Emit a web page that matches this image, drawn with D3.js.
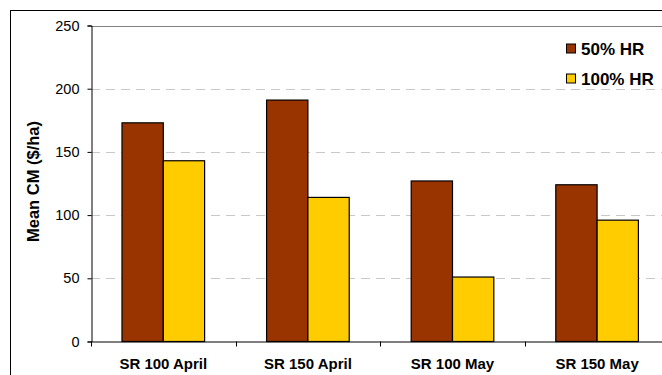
<!DOCTYPE html>
<html>
<head>
<meta charset="utf-8">
<script src="https://cdn.jsdelivr.net/npm/d3@7"></script>
<style>
  html, body { margin: 0; padding: 0; background: #fff; }
  svg { display: block; font-family: Arial, "Liberation Sans", sans-serif; }
</style>
</head>
<body>
<svg id="chart" width="662" height="375"></svg>
<script>
// Mean CM by sowing rate / month, two harvest-rate series
const categories = ["SR 100 April", "SR 150 April", "SR 100 May", "SR 150 May"];
const seriesNames = ["50% HR", "100% HR"];
const hr50 = [173, 191, 127, 124];
const hr100 = [143, 114, 51, 96];
const yTicks = [0, 50, 100, 150, 200, 250];
const seriesColors = ["#993300", "#ffcc00"];

const svg = d3.select("#chart");
const W = 662, H = 375;

// Outer chart frame (continues past the visible edge)
svg.append("rect")
  .attr("x", 10.5).attr("y", 10.5)
  .attr("width", W + 20).attr("height", H + 20)
  .attr("fill", "#fff").attr("stroke", "#000").attr("stroke-width", 1);

const plot = { left: 91, right: 91 + 4 * 144.6, top: 25.5, bottom: 341.5 };

const y = d3.scaleLinear().domain([0, 250]).range([plot.bottom, plot.top]);
const x0 = d3.scaleBand().domain(categories).range([plot.left, plot.right]).padding(0);
const x1 = d3.scaleBand().domain(seriesNames).range([0, x0.bandwidth()])
  .paddingInner(0).paddingOuter(0.75);

// Gridlines
svg.append("g")
  .selectAll("line")
  .data(yTicks.filter(t => t > 0 && t < 250))
  .join("line")
  .attr("x1", plot.left).attr("x2", plot.right)
  .attr("y1", d => Math.round(y(d)) + 0.5).attr("y2", d => Math.round(y(d)) + 0.5)
  .attr("stroke", "#c8c8c8").attr("stroke-width", 1.2)
  .attr("stroke-dasharray", "9,6");

// Plot area top edge
svg.append("line")
  .attr("x1", plot.left).attr("x2", plot.right)
  .attr("y1", Math.round(y(250)) + 0.5).attr("y2", Math.round(y(250)) + 0.5)
  .attr("stroke", "#808080").attr("stroke-width", 1);

// Bars
const rows = categories.map((c, i) => ({ cat: c, vals: [hr50[i], hr100[i]] }));
const groups = svg.append("g").selectAll("g")
  .data(rows).join("g")
  .attr("transform", d => `translate(${x0(d.cat)},0)`);
groups.selectAll("rect")
  .data(d => d.vals.map((v, j) => ({ name: seriesNames[j], v, j })))
  .join("rect")
  .attr("x", d => x1(d.name))
  .attr("y", d => y(d.v))
  .attr("width", x1.bandwidth())
  .attr("height", d => plot.bottom - y(d.v))
  .attr("fill", d => seriesColors[d.j])
  .attr("stroke", "#000").attr("stroke-width", 1.2);

// Y axis
const yAxis = d3.axisLeft(y).tickValues(yTicks).tickSize(4).tickPadding(8);
const gy = svg.append("g").attr("transform", `translate(${plot.left + 0.5},0)`).call(yAxis);
gy.select(".domain").attr("stroke", "#000");
gy.selectAll(".tick line").attr("stroke", "#000");
gy.selectAll(".tick text").attr("font-size", 14.5).attr("fill", "#000")
  .attr("font-family", "Arial, 'Liberation Sans', sans-serif");

// X axis
const xAxis = d3.axisBottom(x0).tickSize(0).tickPadding(17);
const gx = svg.append("g").attr("transform", `translate(0,${plot.bottom})`).call(xAxis);
gx.select(".domain").attr("stroke", "#000");
gx.selectAll(".tick text").attr("font-size", 15).attr("font-weight", "bold").attr("fill", "#000")
  .attr("font-family", "Arial, 'Liberation Sans', sans-serif");
// category separator ticks
svg.append("g").selectAll("line")
  .data(categories.concat(["_end"]))
  .join("line")
  .attr("x1", (d, i) => Math.round(plot.left + i * x0.step()) + 0.5)
  .attr("x2", (d, i) => Math.round(plot.left + i * x0.step()) + 0.5)
  .attr("y1", plot.bottom).attr("y2", plot.bottom + 5)
  .attr("stroke", "#000");

// Y axis title
svg.append("text")
  .attr("transform", `translate(39,${(plot.top + plot.bottom) / 2 - 2}) rotate(-90)`)
  .attr("text-anchor", "middle")
  .attr("font-size", 16.5).attr("font-weight", "bold")
  .text("Mean CM ($/ha)");

// Legend
const legend = svg.append("g");
seriesNames.forEach((name, i) => {
  const cy = 48.5 + i * 30;
  legend.append("rect")
    .attr("x", 566.5).attr("y", cy - 4.5)
    .attr("width", 9).attr("height", 9)
    .attr("fill", seriesColors[i]).attr("stroke", "#000").attr("stroke-width", 1);
  legend.append("text")
    .attr("x", 581).attr("y", cy).attr("dy", "0.36em")
    .attr("font-size", 17).attr("font-weight", "bold")
    .text(name);
});
</script>
</body>
</html>
